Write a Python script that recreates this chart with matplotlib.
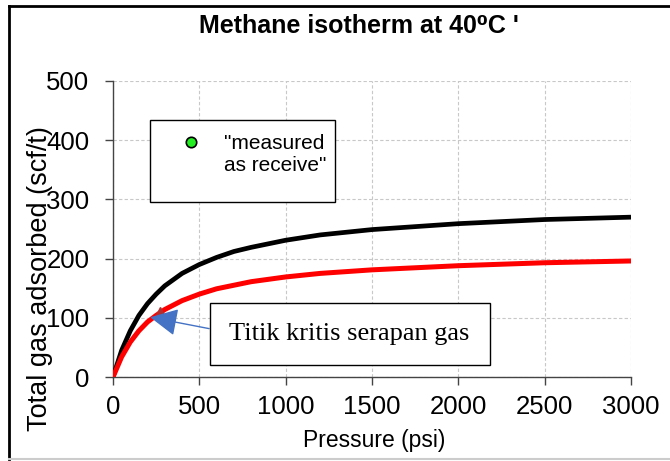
import matplotlib
matplotlib.use("Agg")
import matplotlib.pyplot as plt
from matplotlib.lines import Line2D
from matplotlib.patches import Rectangle

plt.rcParams['font.family'] = ['Liberation Sans', 'DejaVu Sans']

# Data
pressure = [0, 50, 100, 150, 200, 250, 300, 400, 500, 600, 700, 800, 1000,
            1200, 1500, 2000, 2500, 3000]
black_curve = [0, 45, 78, 104, 124, 140, 154, 175, 190, 202, 212, 219, 231,
               240, 249, 259, 266, 270]
red_curve = [0, 34, 59, 78, 93, 104, 114, 129, 140, 149, 155, 161, 169,
             175, 181, 188, 193, 196]
critical_point = (272, 110)
arrow_tip = (215, 101)
x_ticks = [0, 500, 1000, 1500, 2000, 2500, 3000]
y_ticks = [0, 100, 200, 300, 400, 500]

W, H = 670, 461
fig = plt.figure(figsize=(W / 100, H / 100), dpi=100)
ax = fig.add_axes([113 / W, 1 - 377 / H, 518 / W, 296 / H])

ax.plot(pressure, black_curve, color='black', lw=3.4, solid_capstyle='butt', zorder=3)
ax.plot(pressure, red_curve, color='#ff0000', lw=3.6, solid_capstyle='butt', zorder=3)
ax.plot([critical_point[0]], [critical_point[1]], marker='^', color='#b03030',
        markersize=7, zorder=4)

ax.set_xlim(0, 3000)
ax.set_ylim(0, 500)
ax.set_xticks(x_ticks)
ax.set_yticks(y_ticks)
ax.tick_params(axis='both', labelsize=18.5, length=6, width=1, color='#444444')
ax.tick_params(axis='y', pad=11)
ax.tick_params(axis='x', pad=7)
ax.grid(True, color='#c8c8c8', lw=0.8, ls=(0, (3, 2)))
ax.set_axisbelow(True)
for s in ['top', 'right']:
    ax.spines[s].set_visible(False)
for s in ['left', 'bottom']:
    ax.spines[s].set_color('#444444')
    ax.spines[s].set_linewidth(1)

ax.set_xlabel('Pressure (psi)', fontsize=16.5)
ax.xaxis.set_label_coords((374 - 113) / 518, -0.213)
ax.xaxis.label.set_va('center')
ax.set_ylabel('Total gas adsorbed (scf/t)', fontsize=19.5)
ax.yaxis.set_label_coords((40 - 113) / 518, 0.331)
ax.yaxis.label.set_va('center')

fig.text(359 / W, 1 - 26 / H, "Methane isotherm at 40\u2070C '", fontsize=18,
         fontweight='bold', ha='center', va='center')

# Legend box
ax.add_patch(Rectangle((0.0714, 0.591), 0.357, 0.277, transform=ax.transAxes,
                       facecolor='white', edgecolor='black', lw=1, zorder=5))
handles = [Line2D([], [], ls='none', marker='o', markersize=7.5,
                  markerfacecolor='#22ee22', markeredgecolor='black', markeredgewidth=1.2),
           Line2D([], [], ls='none')]
leg = ax.legend(handles, ['"measured', 'as receive"'], loc='upper left',
                bbox_to_anchor=(0.098, 0.87), frameon=False, fontsize=15,
                labelspacing=0.15, handletextpad=1.0, handlelength=1.2,
                borderpad=0.2)
leg.set_zorder(6)

# Annotation
ax.annotate('Titik kritis serapan gas', xy=arrow_tip, xytext=(1370, 72.5),
            fontsize=19, family=['Liberation Serif', 'DejaVu Serif'],
            ha='center', va='center',
            bbox=dict(boxstyle='square,pad=0.75', facecolor='white', edgecolor='black', lw=1),
            arrowprops=dict(arrowstyle='-|>,head_length=0.9,head_width=0.45',
                            color='#4472c4', lw=1, relpos=(0, 0.57),
                            shrinkA=0, shrinkB=0),
            zorder=6)

# figure border
fig.add_artist(Line2D([9 / W, 9 / W], [1 - 6 / H, 2 / H], transform=fig.transFigure,
                      color='black', lw=2))
fig.add_artist(Line2D([9 / W, 1.0], [1 - 6 / H, 1 - 6 / H], transform=fig.transFigure,
                      color='black', lw=2))
fig.add_artist(Line2D([9 / W, 1.0], [2 / H, 2 / H], transform=fig.transFigure,
                      color='#cccccc', lw=1.5))

fig.savefig('out.png', dpi=100)
